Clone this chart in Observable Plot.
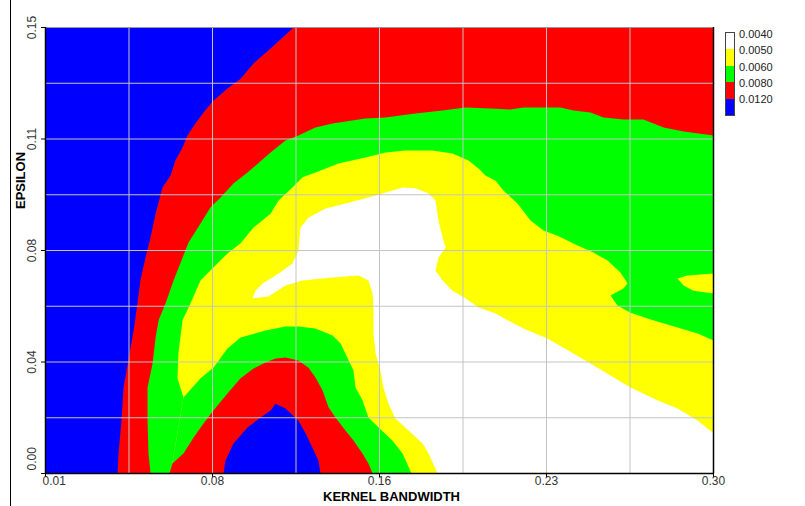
<!DOCTYPE html>
<html><head><meta charset="utf-8">
<script src="https://cdn.jsdelivr.net/npm/d3@7"></script>
<script src="https://cdn.jsdelivr.net/npm/@observablehq/plot@0.6"></script>
<style>
body{margin:0;background:#fff;}
#wrap{position:relative;width:805px;height:506px;font-family:"Liberation Sans",Arial,sans-serif;overflow:hidden;}
#edge{position:absolute;left:10px;top:0;width:1px;height:506px;background:#000;}
#legend{position:absolute;left:725px;top:32px;width:10px;border:1px solid #444;box-sizing:border-box;}
.sw{width:100%;}
.ll{position:absolute;left:739px;font-size:11px;line-height:13px;color:#222;}
</style></head><body><div id="wrap"><div id="edge"></div></div>
<script>
// Axis ticks and labels
const xTicks = [0.01, 0.0825, 0.155, 0.2275, 0.30];
const xTickLabels = ["0.01", "0.08", "0.16", "0.23", "0.30"];
const yTicks = [0, 0.0375, 0.075, 0.1125, 0.15];
const yTickLabels = ["0.00", "0.04", "0.08", "0.11", "0.15"];
const xTitle = "KERNEL BANDWIDTH";
const yTitle = "EPSILON";

// Legend
const legendLabels = ["0.0040", "0.0050", "0.0060", "0.0080", "0.0120"];
const legendColors = ["#ffffff", "#ffff00", "#00ff00", "#ff0000", "#0000ff"];

// Contour regions, [kernel bandwidth, epsilon]
const redRegion = [[0.1177,0.15],[0.1077,0.1429],[0.1003,0.1379],[0.0947,0.1328],[0.0890,0.1295],[0.0829,0.1254],[0.0786,0.1214],[0.0751,0.1177],[0.0716,0.1137],[0.0695,0.1096],[0.0664,0.1053],[0.0643,0.1002],[0.0608,0.0962],[0.0578,0.0874],[0.0556,0.0794],[0.0534,0.0726],[0.0512,0.0649],[0.0499,0.0572],[0.0486,0.0498],[0.0465,0.0404],[0.0439,0.0289],[0.0430,0.0178],[0.0417,0.0067],[0.0413,0],[0.30,0],[0.30,0.15]];

const greenRegion = [[0.0556,0],[0.0547,0.0067],[0.0543,0.0178],[0.0543,0.0289],[0.0565,0.0370],[0.0578,0.0457],[0.0591,0.0515],[0.0621,0.0572],[0.0656,0.0649],[0.0695,0.0726],[0.0721,0.0777],[0.0773,0.0841],[0.0816,0.0895],[0.0860,0.0928],[0.0916,0.0975],[0.0977,0.1012],[0.1077,0.1080],[0.1142,0.1120],[0.1198,0.1137],[0.1272,0.1164],[0.1346,0.1177],[0.1489,0.1194],[0.1576,0.1197],[0.1706,0.1211],[0.1824,0.1221],[0.1923,0.1231],[0.2032,0.1228],[0.2119,0.1224],[0.2175,0.1231],[0.2262,0.1231],[0.2336,0.1231],[0.2392,0.1221],[0.2466,0.1214],[0.2522,0.1197],[0.2609,0.1191],[0.2696,0.1191],[0.2783,0.1164],[0.2870,0.1150],[0.30,0.1137],[0.30,0]];

const yellowRegion = [[0.0643,0],[0.0699,0.0256],[0.0673,0.0320],[0.0677,0.0404],[0.0695,0.0515],[0.0729,0.0572],[0.0773,0.0649],[0.0829,0.0693],[0.0890,0.0740],[0.0947,0.0774],[0.1003,0.0827],[0.1077,0.0874],[0.1112,0.0918],[0.1172,0.0962],[0.1216,0.0996],[0.1272,0.1012],[0.1372,0.1043],[0.1489,0.1063],[0.1576,0.1080],[0.1663,0.1086],[0.1780,0.1086],[0.1867,0.1076],[0.1936,0.1053],[0.1980,0.1026],[0.2010,0.1002],[0.2054,0.0985],[0.2088,0.0952],[0.2149,0.0908],[0.2206,0.0851],[0.2262,0.0817],[0.2323,0.0800],[0.2410,0.0767],[0.2479,0.0743],[0.2540,0.0716],[0.2596,0.0676],[0.2627,0.0639],[0.2609,0.0622],[0.2553,0.0599],[0.2583,0.0565],[0.2640,0.0541],[0.2727,0.0518],[0.2844,0.0491],[0.2931,0.0471],[0.30,0.0447],[0.30,0]];

const yellowPatch = [[0.2844,0.0656],[0.2887,0.0666],[0.30,0.0673],[0.30,0.0605],[0.2913,0.0615],[0.2870,0.0632]];

const whiteRegion = [[0.1533,0.0935],[0.1606,0.0952],[0.1650,0.0962],[0.1706,0.0959],[0.1763,0.0942],[0.1793,0.0918],[0.1806,0.0851],[0.1824,0.0794],[0.1837,0.0760],[0.1806,0.0726],[0.1793,0.0683],[0.1824,0.0649],[0.1867,0.0615],[0.1923,0.0589],[0.1980,0.0558],[0.2054,0.0538],[0.2106,0.0515],[0.2175,0.0488],[0.2279,0.0454],[0.2392,0.0404],[0.2466,0.0370],[0.2553,0.0330],[0.2640,0.0289],[0.2757,0.0246],[0.2844,0.0219],[0.2931,0.0178],[0.30,0.0135],[0.30,0],[0.1802,0],[0.1763,0.0067],[0.1737,0.0101],[0.1676,0.0145],[0.1619,0.0185],[0.1589,0.0235],[0.1567,0.0289],[0.1554,0.0346],[0.1533,0.0404],[0.1524,0.0471],[0.1524,0.0548],[0.1520,0.0605],[0.1502,0.0649],[0.1459,0.0666],[0.1346,0.0659],[0.1216,0.0649],[0.1142,0.0632],[0.1068,0.0595],[0.0999,0.0589],[0.1012,0.0615],[0.1042,0.0639],[0.1112,0.0673],[0.1172,0.0706],[0.1198,0.0750],[0.1207,0.0827],[0.1242,0.0861],[0.1316,0.0891],[0.1415,0.0911]];

const tongueGreen = [[0.0643,0],[0.0699,0.0256],[0.0773,0.0320],[0.0829,0.0356],[0.0890,0.0420],[0.0947,0.0457],[0.1055,0.0481],[0.1142,0.0494],[0.1198,0.0494],[0.1272,0.0488],[0.1346,0.0464],[0.1381,0.0437],[0.1402,0.0404],[0.1437,0.0346],[0.1446,0.0289],[0.1476,0.0246],[0.1502,0.0188],[0.1546,0.0155],[0.1606,0.0111],[0.1650,0.0067],[0.1689,0]];

const tongueRed = [[0.0638,0],[0.0651,0.0034],[0.0699,0.0067],[0.0743,0.0121],[0.0786,0.0168],[0.0829,0.0212],[0.0890,0.0269],[0.0947,0.0320],[0.1003,0.0353],[0.1055,0.0373],[0.1099,0.0387],[0.1142,0.0390],[0.1198,0.0380],[0.1242,0.0356],[0.1272,0.0323],[0.1303,0.0279],[0.1329,0.0222],[0.1359,0.0188],[0.1402,0.0145],[0.1437,0.0111],[0.1476,0.0067],[0.1502,0.0034],[0.1520,0]];

const tongueBlue = [[0.0873,0],[0.0881,0.0044],[0.0916,0.0101],[0.0977,0.0155],[0.1033,0.0188],[0.1077,0.0212],[0.1099,0.0235],[0.1142,0.0219],[0.1198,0.0178],[0.1229,0.0135],[0.1259,0.0087],[0.1285,0.0044],[0.1294,0]];

const BLUE = "#0000ff", RED = "#ff0000", GREEN = "#00ff00", YELLOW = "#ffff00", WHITE = "#ffffff";

const region = (data, fill) => Plot.line(data, {x: d => d[0], y: d => d[1], fill, stroke: "none", curve: "linear"});

const xGrid = d3.range(1, 8).map(k => 0.01 + k * 0.03625);
const yGrid = d3.range(1, 8).map(k => k * 0.01875);
const xTickData = xTicks.map((v, i) => ({v, label: xTickLabels[i]}));
const yTickData = yTicks.map((v, i) => ({v, label: yTickLabels[i]}));

const chart = Plot.plot({
  width: 805, height: 506,
  marginLeft: 45, marginRight: 92, marginTop: 27, marginBottom: 33,
  x: {domain: [0.01, 0.30], axis: null},
  y: {domain: [0, 0.15], axis: null},
  style: {background: "white", fontFamily: "'Liberation Sans', Arial, sans-serif", fontSize: "12px", overflow: "visible"},
  marks: [
    Plot.frame({fill: BLUE, stroke: "none"}),
    region(redRegion, RED),
    region(greenRegion, GREEN),
    region(yellowRegion, YELLOW),
    region(yellowPatch, YELLOW),
    region(whiteRegion, WHITE),
    region(tongueGreen, GREEN),
    region(tongueRed, RED),
    region(tongueBlue, BLUE),
    Plot.ruleX(xGrid, {stroke: "#c4c4c4", strokeWidth: 1}),
    Plot.ruleY(yGrid, {stroke: "#c4c4c4", strokeWidth: 1}),
    Plot.ruleY([0.15], {stroke: "#999", strokeWidth: 1}),
    Plot.ruleX([0.30], {stroke: "#000", strokeWidth: 1.5}),
    Plot.ruleX([0.01], {stroke: "#000", strokeWidth: 1.5}),
    Plot.ruleY([0], {stroke: "#000", strokeWidth: 1.5}),
    Plot.ruleX(xTicks, {x: d => d, y1: 0, y2: 0, insetBottom: -4, stroke: "#000"}),
    Plot.ruleY(yTicks, {y: d => d, x1: 0.01, x2: 0.01, insetLeft: -4, stroke: "#000"}),
    Plot.text(xTickData.slice(0, 1), {x: "v", y: 0, text: "label", textAnchor: "start", lineAnchor: "middle", dx: -3, dy: 8, fill: "#333", ariaLabel: "ticklabel"}),
    Plot.text(xTickData.slice(1), {x: "v", y: 0, text: "label", lineAnchor: "middle", dy: 8, fill: "#333", ariaLabel: "ticklabel"}),
    Plot.text(yTickData.slice(0, 1), {x: 0.01, y: "v", text: "label", rotate: -90, textAnchor: "start", lineAnchor: "middle", dx: -13, dy: -3, fill: "#333", ariaLabel: "ticklabel"}),
    Plot.text(yTickData.slice(1), {x: 0.01, y: "v", text: "label", rotate: -90, lineAnchor: "middle", dx: -13, fill: "#333", ariaLabel: "ticklabel"}),
    Plot.text([xTitle], {frameAnchor: "bottom", textAnchor: "middle", lineAnchor: "middle", dx: 12, dy: 23.5, fontWeight: "bold", fontSize: 13, fill: "#000", ariaLabel: "title"}),
    Plot.text([yTitle], {frameAnchor: "left", rotate: -90, textAnchor: "middle", lineAnchor: "middle", dx: -25, dy: -70, fontWeight: "bold", fontSize: 13, fill: "#000", ariaLabel: "title"})
  ]
});

d3.select(chart).selectAll('g[aria-label="ticklabel"] text').style("letter-spacing", "0.6px");
d3.select(chart).selectAll('g[aria-label="title"] text').style("letter-spacing", "0.5px");

const wrap = document.getElementById("wrap");
wrap.insertBefore(chart, wrap.firstChild);

const leg = document.createElement("div");
leg.id = "legend";
legendColors.forEach(c => {
  const s = document.createElement("div");
  s.className = "sw";
  s.style.height = "16.4px";
  s.style.background = c;
  leg.appendChild(s);
});
wrap.appendChild(leg);
legendLabels.forEach((t, i) => {
  const l = document.createElement("div");
  l.className = "ll";
  l.textContent = t;
  l.style.top = (32 + i * 16.4 + 2.3 - 6.5) + "px";
  wrap.appendChild(l);
});
</script></body></html>
